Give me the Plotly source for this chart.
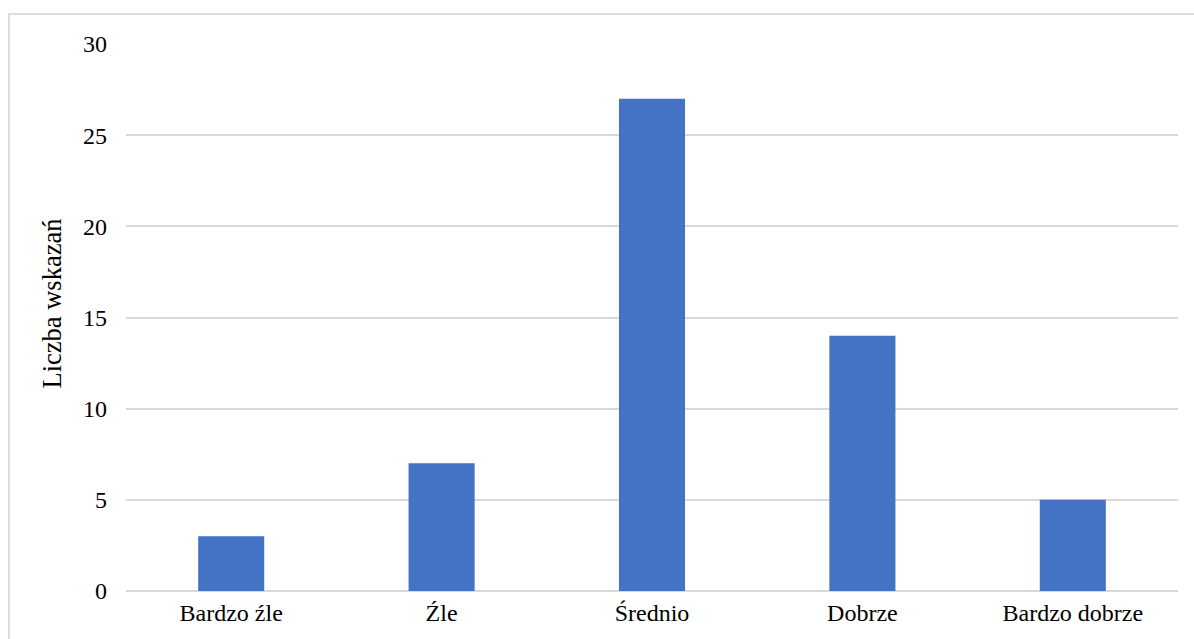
import plotly.graph_objects as go

categories = ["Bardzo źle", "Źle", "Średnio", "Dobrze", "Bardzo dobrze"]
values = [3, 7, 27, 14, 5]
y_ticks = [0, 5, 10, 15, 20, 25, 30]
y_title = "Liczba wskazań"

L, R, T, B = 126, 16, 44, 48
W, H = 1194, 639
pw, ph = W - L - R, H - T - B
FONT = "Liberation Serif, Times New Roman, serif"

fig = go.Figure(go.Bar(x=categories, y=values, marker=dict(color="#4472C4", line=dict(width=0)),
                       hoverinfo="x+y"))

fig.update_layout(
    width=W, height=H,
    margin=dict(l=L, r=R, t=T, b=B, autoexpand=False),
    paper_bgcolor="white", plot_bgcolor="white",
    bargap=0.686,
    font=dict(family=FONT, size=24, color="#000000"),
    showlegend=False,
    xaxis=dict(showgrid=False, showline=False, zeroline=False, ticks="",
               tickfont=dict(size=24), ticklabelstandoff=5, automargin=False),
    yaxis=dict(range=[0, 30], tickvals=y_ticks, showgrid=True, gridcolor="#d9d9d9", gridwidth=1.6,
               zeroline=True, zerolinecolor="#d9d9d9", zerolinewidth=1.6,
               showline=False, ticks="", tickfont=dict(size=24), ticklabelstandoff=18,
               automargin=False),
    annotations=[dict(text=y_title, xref="paper", yref="paper",
                      x=(51.5 - L) / pw, y=(H - B - 304) / ph, xanchor="center", yanchor="middle",
                      textangle=-90, showarrow=False,
                      font=dict(family=FONT, size=26.5, color="#000000"))],
    shapes=[dict(type="rect", xref="paper", yref="paper",
                 x0=(9 - L) / pw, x1=1.05, y0=-0.15, y1=(H - B - 14) / ph,
                 line=dict(color="#dedede", width=2), fillcolor="rgba(0,0,0,0)", layer="below")],
)

fig.write_html("out.html")
